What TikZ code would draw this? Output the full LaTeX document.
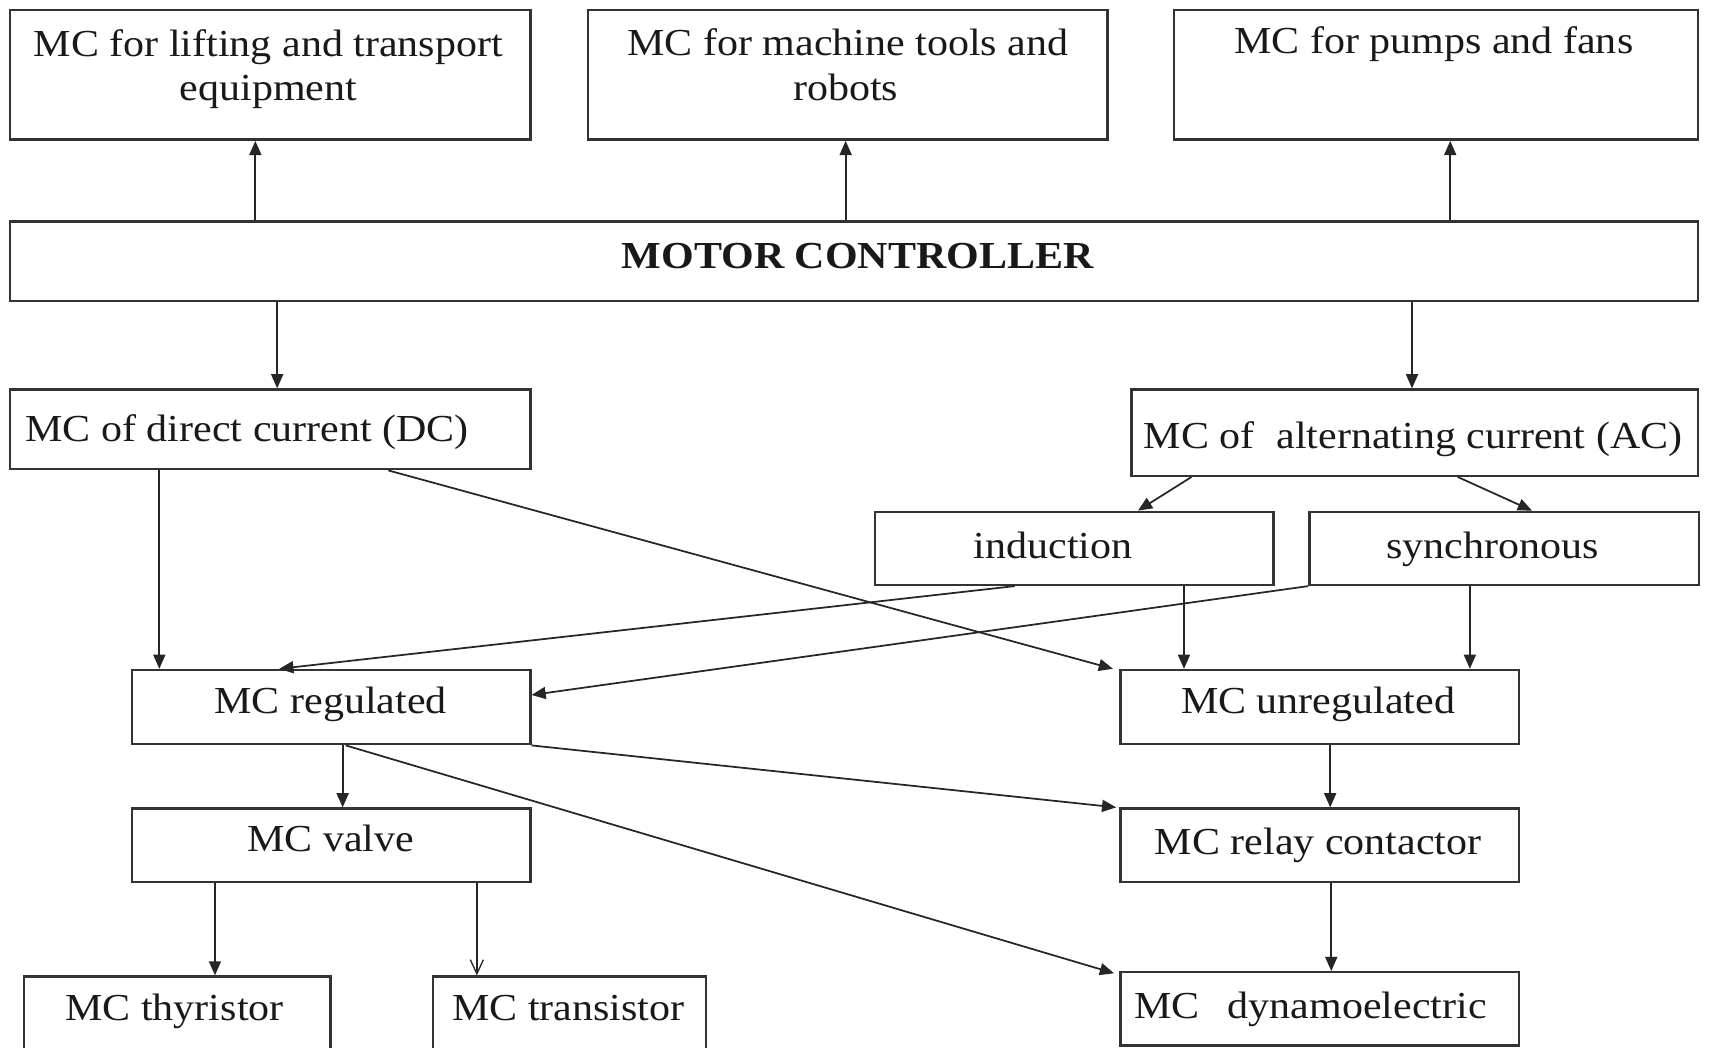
\documentclass[tikz,border=0pt]{standalone}
\usepackage{fontspec}
\setmainfont{Liberation Serif}[FakeStretch=1.1]
\usetikzlibrary{arrows.meta,fit,calc}
\begin{document}
\begin{tikzpicture}[x=0.5pt,y=-0.5pt,
  box/.style={draw=black!80,line width=1.1pt,inner sep=0pt,rectangle},
  lbl/.style={anchor=base,inner sep=0pt,text=black!90,font=\fontsize{17.5}{20}\selectfont},
  arr/.style={draw=black!85,line width=0.8pt,-{Triangle[length=6.5pt,width=5.5pt]}},
  oarr/.style={draw=black!85,line width=0.6pt,-{Straight Barb[length=6.5pt,width=6pt]}}]
\fill[white] (0,0) rectangle (1568,960);
\useasboundingbox (0,0) rectangle (1568,960);

% boxes
\node[box, fit={(9,9) (486,128)}] (b1) {};
\node[box, fit={(539,9) (1015,128)}] (b2) {};
\node[box, fit={(1076,9) (1556,128)}] (b3) {};
\node[box, fit={(9,203) (1556,276)}] (mc) {};
\node[box, fit={(9,357) (486,430)}] (dc) {};
\node[box, fit={(1037,357) (1556,436)}] (ac) {};
\node[box, fit={(802,469) (1167,536)}] (ind) {};
\node[box, fit={(1200,469) (1557,536)}] (syn) {};
\node[box, fit={(121,614) (486,682)}] (reg) {};
\node[box, fit={(1027,614) (1392,682)}] (unreg) {};
\node[box, fit={(121,741) (486,808)}] (valve) {};
\node[box, fit={(1027,741) (1392,808)}] (relay) {};
\node[box, fit={(1027,891) (1392,958)}] (dyn) {};
\node[box, fit={(22,895) (303,975)}] (thy) {};
\node[box, fit={(397,895) (647,975)}] (tra) {};

% labels
\node[lbl] (t1a) at (246,52) {MC for lifting and transport};
\node[lbl] (t1b) at (246,92) {equipment};
\node[lbl] (t2a) at (777,51) {MC for machine tools and};
\node[lbl] (t2b) at (775,92) {robots};
\node[lbl] (t3) at (1314,49) {MC for pumps and fans};
\node[lbl,font=\fontsize{17.5}{20}\selectfont\bfseries] (tmc) at (786,246) {MOTOR CONTROLLER};
\node[lbl,anchor=base west] (tdc) at (23,405) {MC of direct current (DC)};
\node[lbl] (tac) at (1295,411) {MC of\hspace{10pt}alternating current (AC)};
\node[lbl] (tind) at (965,512) {induction};
\node[lbl] (tsyn) at (1368,512) {synchronous};
\node[lbl] (treg) at (303,654) {MC regulated};
\node[lbl] (tunreg) at (1208,654) {MC unregulated};
\node[lbl] (tvalve) at (303,780) {MC valve};
\node[lbl] (trelay) at (1208,783) {MC relay contactor};
\node[lbl] (tdyn) at (1201,933) {MC\hspace{13pt}dynamoelectric};
\node[lbl] (tthy) at (160,935) {MC thyristor};
\node[lbl] (ttra) at (521,935) {MC transistor};

% x positions of vertical connectors
\coordinate (xa) at (234,0);
\coordinate (xb) at (775,0);
\coordinate (xc) at (1329,0);
\coordinate (xd) at (254,0);
\coordinate (xe) at (1294,0);
\coordinate (xf) at (146,0);
\coordinate (xg) at (1085,0);
\coordinate (xh) at (1347,0);
\coordinate (xi) at (314,0);
\coordinate (xj) at (1219,0);
\coordinate (xk) at (1220,0);
\coordinate (xl) at (197,0);
\coordinate (xm) at (437,0);

% vertical connectors
\draw[arr] (mc.north -| xa) -- (b1.south -| xa);
\draw[arr] (mc.north -| xb) -- (b2.south -| xb);
\draw[arr] (mc.north -| xc) -- (b3.south -| xc);
\draw[arr] (mc.south -| xd) -- (dc.north -| xd);
\draw[arr] (mc.south -| xe) -- (ac.north -| xe);
\draw[arr] (dc.south -| xf) -- (reg.north -| xf);
\draw[arr] (ind.south -| xg) -- (unreg.north -| xg);
\draw[arr] (syn.south -| xh) -- (unreg.north -| xh);
\draw[arr] (reg.south -| xi) -- (valve.north -| xi);
\draw[arr] (unreg.south -| xj) -- (relay.north -| xj);
\draw[arr] (relay.south -| xk) -- (dyn.north -| xk);
\draw[arr] (valve.south -| xl) -- (thy.north -| xl);
\draw[oarr] (valve.south -| xm) -- (tra.north -| xm);

% diagonal connectors
\draw[arr] ($(ac.south west)+(56,0)$) -- ($(ind.north west)+(242,0)$);
\draw[arr] ($(ac.south west)+(300,0)$) -- ($(syn.north west)+(205,0)$);
\draw[arr] ($(dc.south west)+(348,0)$) -- ($(unreg.north west)+(-6,0)$);
\draw[arr] ($(ind.south west)+(129,0)$) -- ($(reg.north west)+(136,0)$);
\draw[arr] (syn.south west) -- ($(reg.north east)+(0,24)$);
\draw[arr] (reg.south east) -- ($(relay.north west)+(-3,0)$);
\draw[arr] ($(reg.south west)+(197,0)$) -- ($(dyn.north west)+(-5,2)$);
\end{tikzpicture}
\end{document}
